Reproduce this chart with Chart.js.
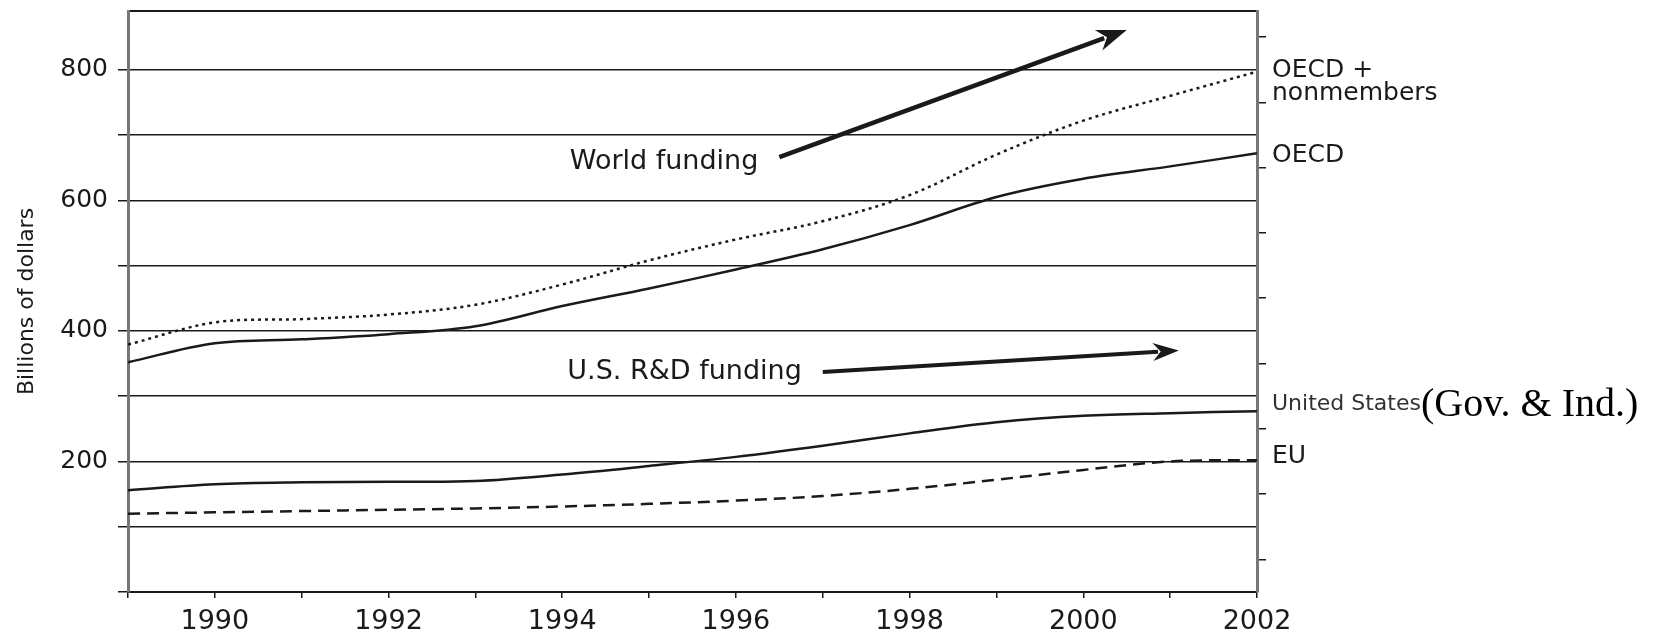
<!DOCTYPE html>
<html>
<head>
<meta charset="utf-8">
<script src="https://cdn.jsdelivr.net/npm/chart.js@4.4.1/dist/chart.umd.min.js"></script>
<style>
  html, body { margin: 0; padding: 0; background: #fff; }
  #box { width: 1668px; height: 636px; }
</style>
</head>
<body>
<div id="box"><canvas id="FundingBox"></canvas></div>
<script>
const years = [1989, 1990, 1991, 1992, 1993, 1994, 1995, 1996, 1997, 1998, 1999, 2000, 2001, 2002];
const oecdPlus = [379, 413, 418, 425, 440, 471, 508, 540, 568, 608, 670, 722, 760, 797];
const oecd = [352, 381, 387, 395, 407, 438, 465, 494, 525, 562, 605, 633, 652, 672];
const unitedStates = [156, 165, 168, 169, 170, 180, 193, 207, 224, 243, 260, 270, 274, 277];
const eu = [120, 122, 124, 126, 128, 131, 135, 140, 147, 158, 172, 187, 200, 202];

const xTickLabels = [1990, 1992, 1994, 1996, 1998, 2000, 2002];
const yGrid = [0, 100, 200, 300, 400, 500, 600, 700, 800];
const yTickLabels = [200, 400, 600, 800];
const rightTicks = [50, 150, 250, 350, 450, 550, 650, 750, 850];

// arrows in data units: [year, value]
const worldArrow = [[1996.5, 666], [2000.5, 861]];
const usArrow = [[1997.0, 337], [2001.1, 370]];

const pts = arr => years.map((yr, i) => ({x: yr, y: arr[i]}));
const INK = '#1a1a1a';

Chart.defaults.font.family = '"DejaVu Sans", Arial, sans-serif';
Chart.defaults.color = INK;

function drawArrow(ctx, x1, y1, x2, y2, w, headLen, headW) {
    const ang = Math.atan2(y2 - y1, x2 - x1);
    const bx = x2 - Math.cos(ang) * headLen * 0.8;
    const by = y2 - Math.sin(ang) * headLen * 0.8;
    ctx.save();
    ctx.strokeStyle = INK;
    ctx.fillStyle = INK;
    ctx.lineWidth = w;
    ctx.beginPath();
    ctx.moveTo(x1, y1);
    ctx.lineTo(bx, by);
    ctx.stroke();
    ctx.translate(x2, y2);
    ctx.rotate(ang);
    ctx.beginPath();
    ctx.moveTo(0, 0);
    ctx.lineTo(-headLen, -headW / 2);
    ctx.lineTo(-headLen * 0.7, 0);
    ctx.lineTo(-headLen, headW / 2);
    ctx.closePath();
    ctx.fill();
    ctx.restore();
}

const annotations = {
    id: 'annotations',
    afterDatasetsDraw(chart) {
        const {ctx, chartArea, scales: {x, y}} = chart;
        const px = p => [x.getPixelForValue(p[0]), y.getPixelForValue(p[1])];

        const w0 = px(worldArrow[0]), w1 = px(worldArrow[1]);
        const u0 = px(usArrow[0]), u1 = px(usArrow[1]);
        drawArrow(ctx, w0[0], w0[1], w1[0], w1[1], 4.5, 30, 22);
        drawArrow(ctx, u0[0], u0[1], u1[0], u1[1], 4, 26, 18);

        ctx.save();
        ctx.fillStyle = INK;
        ctx.textBaseline = 'middle';
        ctx.font = '27px "DejaVu Sans", Arial, sans-serif';
        ctx.textAlign = 'right';
        ctx.fillText('World funding', w0[0] - 21, w0[1] + 5);
        ctx.fillText('U.S. R&D funding', u0[0] - 21, u0[1]);

        // series labels to the right of the plot
        ctx.textAlign = 'left';
        const lx = chartArea.right + 15;
        const last = arr => y.getPixelForValue(arr[arr.length - 1]);
        ctx.font = '25px "DejaVu Sans", Arial, sans-serif';
        ctx.fillText('OECD +', lx, last(oecdPlus) - 1);
        ctx.fillText('nonmembers', lx, last(oecdPlus) + 22);
        ctx.fillText('OECD', lx, last(oecd) + 2);
        ctx.fillText('EU', lx, last(eu) - 4);
        ctx.font = '22px "DejaVu Sans", Arial, sans-serif';
        ctx.fillStyle = '#333';
        const usY = last(unitedStates) - 7;
        ctx.fillText('United States', lx, usY);
        const usW = ctx.measureText('United States').width;
        ctx.fillStyle = '#000';
        ctx.font = '40px "Liberation Serif", "Times New Roman", serif';
        ctx.fillText('(Gov. & Ind.)', lx + usW, usY + 1);
        ctx.restore();
    }
};

const FundingData = {
    datasets: [{
        label: 'OECD + nonmembers',
        data: pts(oecdPlus),
        borderColor: INK,
        borderWidth: 2.5,
        borderDash: [3, 4],
        tension: 0.35
    },
    {
        label: 'OECD',
        data: pts(oecd),
        borderColor: INK,
        borderWidth: 2.5,
        tension: 0.35
    },
    {
        label: 'United States',
        data: pts(unitedStates),
        borderColor: INK,
        borderWidth: 2.5,
        tension: 0.35
    },
    {
        label: 'EU',
        data: pts(eu),
        borderColor: INK,
        borderWidth: 2.5,
        borderDash: [12, 7],
        tension: 0.35
    }]
};

const FundingConfig = {
    type: 'line',
    data: FundingData,
    plugins: [annotations],
    options: {
        responsive: true,
        maintainAspectRatio: false,
        animation: false,
        layout: {padding: 0},
        elements: {point: {radius: 0}},
        scales: {
            x: {
                type: 'linear',
                position: 'bottom',
                min: 1989,
                max: 2002,
                afterFit: s => { s.height = 44; s.paddingLeft = 0; s.paddingRight = 0; },
                ticks: {
                    stepSize: 1,
                    autoSkip: false,
                    maxRotation: 0,
                    padding: 8,
                    font: {size: 27},
                    callback: v => xTickLabels.includes(v) ? String(v) : ''
                },
                grid: {drawOnChartArea: false, tickLength: 6, color: INK, lineWidth: 1.5},
                border: {color: INK, width: 2}
            },
            xTop: {
                type: 'linear',
                position: 'top',
                min: 1989,
                max: 2002,
                afterFit: s => { s.height = 11; },
                ticks: {display: false},
                grid: {drawOnChartArea: false, drawTicks: false},
                border: {color: INK, width: 2}
            },
            y: {
                position: 'left',
                min: 0,
                max: 890,
                afterFit: s => { s.width = 128; s.paddingTop = 0; s.paddingBottom = 0; },
                afterBuildTicks: s => { s.ticks = yGrid.map(v => ({value: v})); },
                ticks: {
                    autoSkip: false,
                    padding: 10,
                    font: {size: 25},
                    callback: v => yTickLabels.includes(v) ? String(v) : ''
                },
                grid: {color: INK, lineWidth: 1.5, tickLength: 10},
                border: {color: '#777', width: 3},
                title: {
                    display: true,
                    text: 'Billions of dollars',
                    font: {size: 22},
                    padding: {top: 14, bottom: 0}
                }
            },
            y2: {
                position: 'right',
                min: 0,
                max: 890,
                afterFit: s => { s.width = 411; s.paddingTop = 0; s.paddingBottom = 0; },
                afterBuildTicks: s => { s.ticks = rightTicks.map(v => ({value: v})); },
                ticks: {display: false},
                grid: {drawOnChartArea: false, tickLength: 9, color: INK, lineWidth: 1.5},
                border: {color: '#777', width: 3}
            }
        },
        plugins: {
            legend: {display: false},
            tooltip: {enabled: false}
        }
    }
};

window.onload = function() {
    const ctx = document.getElementById('FundingBox').getContext('2d');
    new Chart(ctx, FundingConfig);
};
</script>
</body>
</html>
